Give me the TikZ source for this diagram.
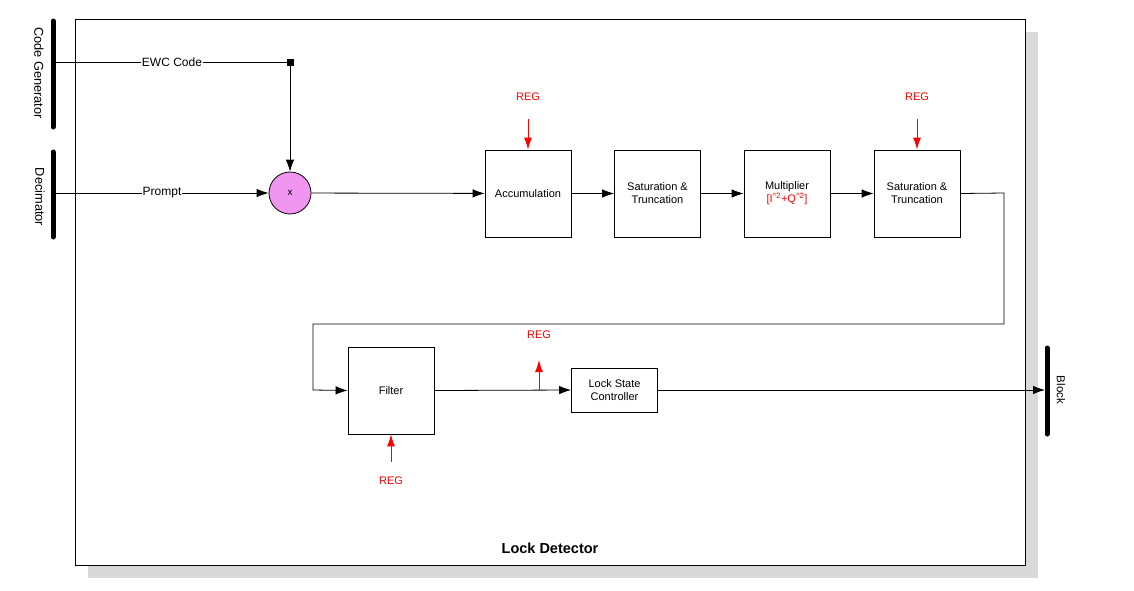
\documentclass[tikz,border=0pt]{standalone}
\usepackage{fontspec}
\setmainfont{Liberation Sans}
\usetikzlibrary{arrows.meta}
\begin{document}
\begin{tikzpicture}[x=1pt,y=-1pt,
  blk/.style={draw=black,line width=0.8pt,minimum width=86pt,minimum height=87pt,align=center,font=\fontsize{11}{13}\selectfont,inner sep=0pt},
  lbl/.style={font=\fontsize{12}{14}\selectfont},
  sidelbl/.style={font=\fontsize{12.8}{14}\selectfont,rotate=-90},
  redlbl/.style={font=\fontsize{11}{13}\selectfont,text=red},
  bar/.style={line width=5pt,line cap=round},
  conn/.style={line width=0.8pt,-{Latex[length=12pt,width=8.5pt]}},
  plain/.style={line width=0.8pt},
  regarrow/.style={red,line width=0.9pt,-{Latex[length=12pt,width=8pt]}}]
\useasboundingbox (0,0) rectangle (1134,590);
% shadow and main frame
\fill[black!15] (88,32) rectangle (1038,578);
\draw[fill=white,line width=0.8pt] (75,19) rectangle (1025,565);
\node[font=\fontsize{14.5}{16}\selectfont\bfseries] (title) at (550,548) {Lock Detector};
% side bars
\draw[bar] (53,21) coordinate (cgt) -- (53,127) coordinate (cgb);
\node[sidelbl] (cg) at (39,73) {Code Generator};
\draw[bar] (53,152) coordinate (dt) -- (53,237) coordinate (db);
\node[sidelbl] (dec) at (40,197) {Decimator};
\draw[bar] (1047,348) coordinate (bt) -- (1047,434) coordinate (bb);
\node[sidelbl,font=\fontsize{11.5}{13}\selectfont] (blkl) at (1061,390) {Block};
% inputs
\coordinate (cgout) at (53,62);
\coordinate (decout) at (53,193);
\node[fill=black,minimum size=7pt,inner sep=0pt] (junc) at (290,62) {};
\node[circle,draw=black,line width=0.8pt,fill={rgb,255:red,240;green,150;blue,240},minimum size=42pt,inner sep=0pt,font=\fontsize{10}{12}\selectfont] (mul) at (290,193) {x};
\draw[plain] (cgout) -- (junc.center);
\node[lbl,fill=white,inner sep=1pt] (ewc) at (172,62) {EWC Code};
\draw[conn] (junc) -- (mul);
\draw[conn] (decout) -- (mul);
\node[lbl,fill=white,inner sep=1pt] (prompt) at (162,193) {Prompt};
% blocks
\node[blk] (acc) at (528,193.5) {Accumulation};
\node[blk] (st1) at (657.5,193.5) {Saturation \&\\Truncation};
\node[blk] (mlt) at (787,193.5) {Multiplier\\\textcolor{red}{[I\textsuperscript{\^{}2}+Q\textsuperscript{\^{}2}]}};
\node[blk] (st2) at (917,193.5) {Saturation \&\\Truncation};
\node[blk] (flt) at (391,390.5) {Filter};
\node[blk,minimum height=44pt] (lsc) at (614.5,390) {Lock State\\Controller};
\draw[conn] (mul) -- (acc);
\draw[conn] (acc) -- (st1);
\draw[conn] (st1) -- (mlt);
\draw[conn] (mlt) -- (st2);
\draw[conn] (st2.east) -- (1004,193) -- (1004,324) -- (313,324) -- (313,390) -- (flt.west);
\draw[conn] (flt.east) -- (lsc.west);
\coordinate (blkin) at (1045,390);
\draw[conn] (lsc.east) -- (blkin);
% REG markers
\node[redlbl] (reg1) at (528,97) {REG};
\coordinate (r1s) at (528,119);
\draw[regarrow] (r1s) -- (acc.north);
\node[redlbl] (reg2) at (917,97) {REG};
\coordinate (r2s) at (917,119);
\draw[regarrow] (r2s) -- (st2.north);
\node[redlbl] (reg3) at (539,335) {REG};
\coordinate (r3s) at (539,390);
\coordinate (r3e) at (539,360);
\draw[regarrow] (r3s) -- (r3e);
\node[redlbl] (reg4) at (391,481) {REG};
\coordinate (r4s) at (391,462);
\draw[regarrow] (r4s) -- (flt.south);
\end{tikzpicture}
\end{document}
